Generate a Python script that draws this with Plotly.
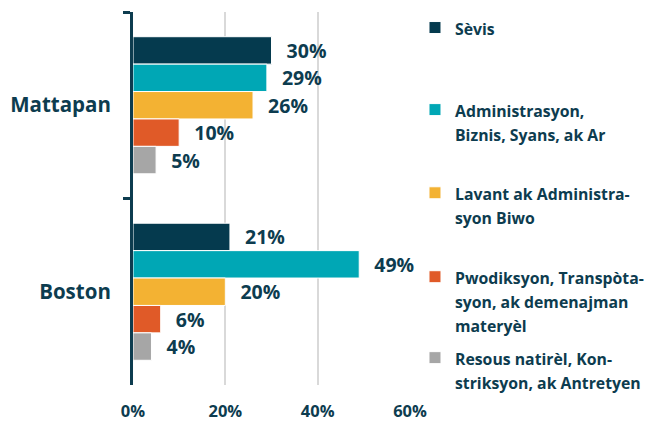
import plotly.graph_objects as go

categories = ["Mattapan", "Boston"]
series_names = [
    "Sèvis",
    "Administrasyon,<br>Biznis, Syans, ak Ar",
    "Lavant ak Administra-<br>syon Biwo",
    "Pwodiksyon, Transpòta-<br>syon, ak demenajman<br>materyèl",
    "Resous natirèl, Kon-<br>striksyon, ak Antretyen",
]
sevis = [30, 21]
administrasyon = [29, 49]
lavant = [26, 20]
pwodiksyon = [10, 6]
resous = [5, 4]
x_ticks = [0, 20, 40, 60]
x_tick_labels = ["0%", "20%", "40%", "60%"]

series_values = [sevis, administrasyon, lavant, pwodiksyon, resous]
colors = ["#053a4e", "#00a7b5", "#f3b233", "#e05a28", "#a6a6a6"]
TXT = "#0d3c4f"
FONT = "Open Sans"

legend_ids = ["legend", "legend2", "legend3", "legend4", "legend5"]
legend_y = [1.008, 0.788, 0.565, 0.340, 0.123]

fig = go.Figure()
for name, vals, col, lid in zip(series_names, series_values, colors, legend_ids):
    lines = name.split("<br>")
    legend_name = "<br>".join(f"<span style='font-size:15.8px'>{ln}</span>" for ln in lines)
    fig.add_trace(go.Bar(
        y=categories, x=vals, orientation="h", name=legend_name,
        marker=dict(color=col, line=dict(color="white", width=1)),
        text=[f"\u00a0\u00a0\u200a{v}%" for v in vals],
        textposition="outside", cliponaxis=False, constraintext="none",
        textfont=dict(family=FONT, size=19.5, color=TXT, weight="bold"),
        legend=lid,
    ))

layout_legends = {}
for lid, ly in zip(legend_ids, legend_y):
    layout_legends[lid] = dict(
        x=1.018, xanchor="left", y=ly, yanchor="top",
        font=dict(family=FONT, size=18.5, color=TXT, weight="bold"),
        valign="top", bgcolor="rgba(0,0,0,0)", borderwidth=0,
    )

# page body adds an 8px offset at left/top; figure sized to fill the rest of the window
fig.update_layout(
    width=653, height=413,
    margin=dict(l=125, r=251, t=4, b=36, autoexpand=False),
    paper_bgcolor="white", plot_bgcolor="white",
    barmode="group", bargap=0.265, bargroupgap=0,
    showlegend=True,
    font=dict(family=FONT, color=TXT),
    xaxis=dict(
        range=[0, 60], tickvals=x_ticks, ticktext=x_tick_labels,
        showgrid=True, gridcolor="#d9d9d9", gridwidth=2,
        zeroline=False, showline=False, ticks="",
        tickfont=dict(family=FONT, size=16.5, color=TXT, weight="bold"),
        ticklabelstandoff=14, automargin=False,
    ),
    yaxis=dict(
        categoryorder="array", categoryarray=categories,
        autorange="reversed",
        showline=True, linecolor=TXT, linewidth=3,
        ticks="outside", tickson="boundaries", ticklen=7, tickwidth=3, tickcolor=TXT,
        showgrid=False, zeroline=False,
        tickfont=dict(family=FONT, size=20.5, color=TXT, weight="bold"),
        ticklabelstandoff=15, automargin=False,
    ),
    **layout_legends,
)

fig.write_html("out.html")
